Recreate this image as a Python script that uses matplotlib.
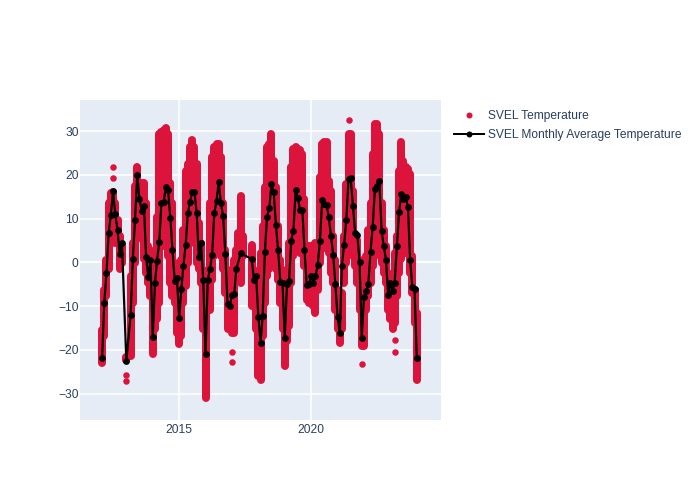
import matplotlib
matplotlib.use("Agg")
import matplotlib.pyplot as plt
import matplotlib.dates as mdates
import pandas as pd
from matplotlib.lines import Line2D

plt.rcParams['font.family'] = ['Liberation Sans', 'DejaVu Sans']

START = '2012-02-01'
MONTHS = 144

# Monthly average temperature (month number counted from START)
avg_month = list(range(0, 10)) + [11] + list(range(13, 62)) + [63] + list(range(68, 144))
avg_temp = [
    -21.9, -9.3, -2.5, 6.7, 10.9, 16.3, 11.0, 7.4, 1.9, 4.4, -22.5,
    -12.0, 0.9, 9.7, 20.1, 14.6, 11.8, 13.0, 1.25, -3.4, 0.6, -17.1,
    -4.8, 0.4, 4.6, 13.7, 13.8, 17.2, 16.6, 10.2, 2.9, -4.2, -3.5,
    -12.6, -6.1, -0.7, 3.9, 11.2, 13.9, 16.0, 16.2, 11.2, 1.3, 4.4,
    -4.1, -21.0, -4.1, -1.5, 1.6, 11.2, 14.1, 18.4, 13.5, 10.6, 2.0,
    -9.5, -10.0, -7.5, -7.3, -1.6, 2.1,
    0.8, -4.0, -3.2, -12.5, -18.3, -12.2,
    2.4, 10.5, 12.4, 18.0, 16.0, 8.5, 2.8, -4.4, -4.6, -17.3,
    -4.9, -4.2, 5.0, 7.3, 16.6, 14.8, 11.9, 12.1, 2.9, -5.2,
    -5.0, -3.0, -4.6, -3.2, -0.5, 4.8, 14.2, 13.4, 13.2, 10.3,
    6.0, 1.7, -5.0, -12.5, -16.2, -0.8, 4.1, 9.6, 19.0, 19.2,
    13.0, 6.7, 6.2, 0.0, -17.2, -7.8, -6.6, -5.0, 2.4, 8.2,
    16.9, 17.5, 18.7, 7.3, 3.8, 0.6, -7.4, -4.8, -6.5, -4.7,
    3.8, 11.5, 15.7, 14.6, 15.0, 12.6, 0.6, -5.7, -6.0, -21.8,
]

# Range of the individual readings in each month
range_month = list(range(0, 10)) + [11] + list(range(13, 65)) + list(range(68, 144))
range_high = [
    -15.4, -6.2, 0.6, 13.6, 15.9, 16.0, 13.6, 9.8, 6.0, 3.7, -21.5,
    -3.2, 4.4, 17.4, 21.8, 16.6, 18.2, 18.2, 13.6, 3.7, 0.6, -1.7,
    2.9, 10.5, 29.4, 29.8, 30.2, 30.8, 29.4, 18.2, 13.6, -0.1, -3.2,
    -4.7, 0.6, 7.5, 21.0, 22.5, 26.3, 28.1, 26.3, 22.5, 9.0, 4.5,
    -1.7, -4.7, -1.7, 13.6, 24.1, 26.3, 27.1, 27.1, 24.1, 13.6, 2.9,
    -1.7, -4.7, -4.7, 0.6, 2.9, 6.7, 15.3, 6.0,
    4.1, -1.7, -3.2, -3.2, 2.2, 8.3, 17.2, 26.3, 27.1, 29.4,
    23.3, 17.2, 8.3, 0.6, -1.7, -4.7, -6.2, 4.4, 21.8, 26.0,
    26.3, 26.0, 25.6, 24.8, 14.4, 3.7, 3.7, 3.7, 3.7, 4.4,
    4.4, 19.5, 27.1, 27.5, 27.5, 18.7, 16.4, 6.0, 0.6, -6.2,
    -11.6, -7.0, 6.0, 18.0, 29.4, 29.4, 16.4, 6.0, 5.2, 0.6,
    -5.5, -6.2, 1.4, 7.5, 13.6, 24.8, 31.7, 31.7, 29.4, 13.6,
    7.5, 3.7, -2.4, -3.9, -4.7, 2.2, 6.0, 21.0, 27.5, 23.3,
    21.8, 21.4, 20.3, 1.4, -6.2, -11.6,
]
range_low = [
    -22.9, -16.8, -7.7, -1.6, 4.5, 5.3, 4.5, 4.5, -1.6, -0.1, -22.3,
    -21.4, -9.2, -0.1, 7.5, 8.3, 5.3, 0.7, -2.3, -4.6, -7.7, -21.0,
    -15.3, -13.0, -9.2, 3.7, 3.7, 3.7, 1.4, -4.6, -7.7, -9.2, -16.1,
    -18.7, -16.8, -9.2, -5.4, -0.1, 4.5, 5.3, 4.5, -0.1, -1.6, -4.6,
    -15.3, -30.9, -10.8, -10.8, -3.9, 1.4, 3.7, 3.7, 1.4, -1.6, -6.9,
    -15.3, -15.3, -16.1, -16.1, -3.9, -2.4, -4.6, 1.4,
    -10.0, -9.2, -15.3, -26.0, -26.8, -16.8, -9.2, -3.1, -1.6, 1.4,
    1.4, -1.6, -3.9, -9.2, -15.3, -23.7, -18.0, -14.5, -4.6, 1.4,
    3.7, 3.7, 2.2, 2.2, -0.8, -8.5, -9.2, -8.5, -10.0, -11.5,
    -6.2, -0.1, 3.0, 5.3, 3.7, 2.2, -2.4, -4.6, -10.8, -15.3,
    -18.4, -15.3, -4.6, -0.1, 6.0, 4.5, 1.4, -0.8, -4.6, -10.8,
    -19.1, -19.1, -10.8, -7.7, -4.6, -0.8, 1.4, 3.0, 2.2, -0.1,
    -2.4, -4.6, -10.8, -13.0, -15.3, -13.8, -7.7, -2.4, 0.7, 2.2,
    2.2, 2.2, -2.4, -6.9, -13.8, -26.8,
]

# Isolated readings away from the cloud
single_month = [5, 5, 11, 11, 59, 59, 112, 118, 133, 133]
single_temp = [21.9, 19.4, -25.7, -27.1, -20.4, -22.7, 32.6, -23.1, -17.7, -20.4]

scatter_name = 'SVEL Temperature'
line_name = 'SVEL Monthly Average Temperature'
y_ticks = [-30, -20, -10, 0, 10, 20, 30]
x_tick_years = [2015, 2020]

RED = '#dc143c'
TXT = '#2a3f5f'
PX = 72 / 100

all_dates = pd.date_range(START, periods=MONTHS, freq='MS')

fig = plt.figure(figsize=(7, 5), dpi=100)
fig.patch.set_facecolor('white')
ax = fig.add_axes([80 / 700, 80 / 500, 361 / 700, 320 / 500], facecolor='#e5ecf6')

ax.vlines(all_dates[range_month], range_low, range_high, color=RED,
          linewidth=8 * PX, capstyle='round', zorder=3)
ax.scatter(all_dates[single_month], single_temp, s=(6.5 * PX) ** 2, color=RED,
           linewidths=0, zorder=3)
ax.plot(all_dates[avg_month], avg_temp, color='black', lw=2.2 * PX, marker='o',
        ms=6.8 * PX, mew=0, zorder=4)

ax.set_xlim(pd.Timestamp('2011-04-01'), pd.Timestamp('2024-12-01'))
ax.set_ylim(-36.0, 37.14)
ax.set_yticks(y_ticks)
ax.set_xticks([pd.Timestamp(f'{y}-01-01') for y in x_tick_years])
ax.xaxis.set_major_formatter(mdates.DateFormatter('%Y'))
ax.grid(True, color='white', lw=1.5 * PX, zorder=1)
ax.set_axisbelow(True)
ax.axhline(0, color='white', lw=2.2 * PX, zorder=1)
for s in ax.spines.values():
    s.set_visible(False)
ax.tick_params(length=0, labelsize=12 * PX, labelcolor=TXT)
ax.tick_params(axis='y', pad=1)
ax.tick_params(axis='x', pad=3)

handles = [
    Line2D([], [], color=RED, ls='none', marker='o', ms=6 * PX, mew=0, label=scatter_name),
    Line2D([], [], color='black', lw=2 * PX, marker='o', ms=6 * PX, mew=0, label=line_name),
]
fig.legend(handles=handles, loc='upper left', bbox_to_anchor=(453.5 / 700, 1 - 110 / 500),
           bbox_transform=fig.transFigure, frameon=False, fontsize=12 * PX,
           labelcolor=TXT, handlelength=2.5, handletextpad=0.4, labelspacing=0.58,
           borderpad=0, borderaxespad=0)

fig.savefig('out.png', dpi=100)
